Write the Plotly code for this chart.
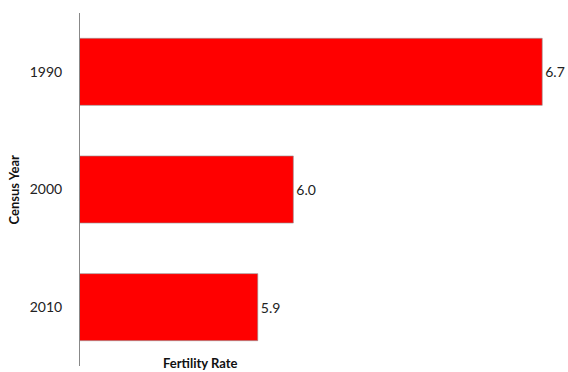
import plotly.graph_objects as go

# Census fertility data
years = ["1990", "2000", "2010"]
fertility = [6.7, 6.0, 5.9]
labels = ["6.7", "6.0", "5.9"]

fig = go.Figure()

fig.add_trace(
    go.Bar(
        x=fertility,
        y=years,
        orientation="h",
        marker=dict(color="#ff0000", line=dict(color="rgba(150,150,150,0.8)", width=0.8)),
        text=labels,
        textposition="outside",
        cliponaxis=False,
        textfont=dict(family="Lato", size=14, color="#222222"),
    )
)

fig.update_layout(
    width=568,
    height=372,
    margin=dict(l=80, r=8, t=13, b=6),
    plot_bgcolor="white",
    paper_bgcolor="white",
    bargap=0.43,
    showlegend=False,
    font=dict(family="Lato", size=14, color="#222222"),
    xaxis=dict(range=[5.4, 6.75], showticklabels=False, showgrid=False,
               zeroline=False, showline=False, ticks="", automargin=False),
    yaxis=dict(autorange="reversed", showgrid=False, zeroline=False,
               showline=True, linecolor="#888888", linewidth=1,
               ticks="", ticklabelstandoff=14, automargin=False),
)

# axis titles placed like the original
fig.add_annotation(text="<b>Fertility Rate</b>", xref="paper", yref="paper",
                   x=0.25, y=0, xanchor="center", yanchor="middle", yshift=3,
                   showarrow=False, font=dict(family="Lato", size=13, color="#111111"))
fig.add_annotation(text="<b>Census Year</b>", xref="paper", yref="paper",
                   x=0, y=0.5, xanchor="center", yanchor="middle", xshift=-67,
                   textangle=-90, showarrow=False,
                   font=dict(family="Lato", size=13, color="#111111"))

# drop the default page margin so the chart sits at the window's corner
fig.write_html("out.html", config={"displayModeBar": False},
               post_script="document.body.style.margin='0';")
